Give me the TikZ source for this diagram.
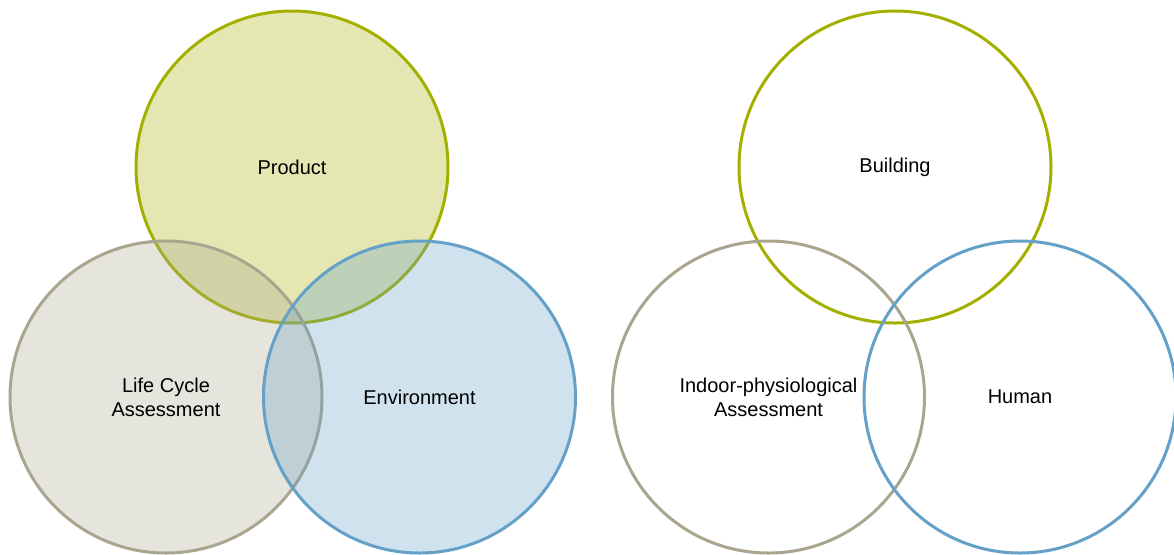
\documentclass[tikz,border=0pt]{standalone}
\usepackage{fontspec}
\setmainfont{Liberation Sans}
\definecolor{oliveline}{RGB}{164,176,0}
\definecolor{greyline}{RGB}{169,165,142}
\definecolor{blueline}{RGB}{100,160,200}
\tikzset{
  venn/.style={circle, minimum size=156pt, inner sep=0pt, line width=1.5pt,
    align=center, font=\fontsize{10}{12}\selectfont},
  filled/.style={fill=#1, fill opacity=0.3, text opacity=1, draw=#1},
  open/.style={draw=#1}
}
\begin{document}
\begin{tikzpicture}[x=0.5pt,y=0.5pt,yscale=-1]
\useasboundingbox (0,0) rectangle (1174,554);

%Shape: Circle -- left set, filled
\node[venn, filled=oliveline] (product) at (292,167) {Product};
\node[venn, filled=greyline] (lca) at (166,397) {Life Cycle\\Assessment};
\node[venn, filled=blueline] (environment) at (419.5,397) {Environment};

%Shape: Circle -- right set, outlines only
\node[venn, open=oliveline] (building) at (895,167) {Building};
\node[venn, open=greyline] (indoor) at (768.5,397) {Indoor-physiological\\Assessment};
\node[venn, open=blueline] (human) at (1020,397) {Human};

\end{tikzpicture}
\end{document}
